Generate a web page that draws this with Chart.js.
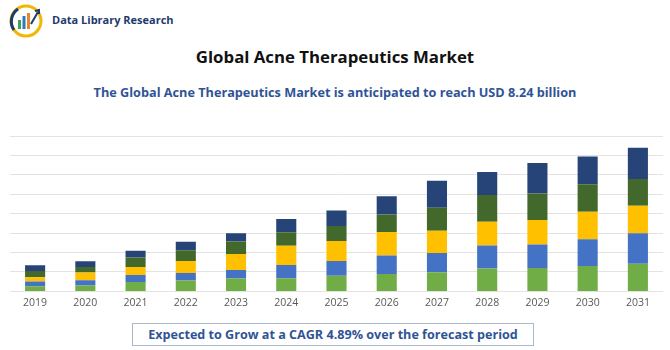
<!DOCTYPE html>
<html>
<head>
<meta charset="utf-8">
<script src="https://cdn.jsdelivr.net/npm/chart.js@4.4.0/dist/chart.umd.min.js"></script>
<style>
body{margin:0;background:#fff;font-family:"Open Sans",sans-serif;}
#wrap{position:relative;width:670px;height:350px;overflow:hidden;}
#logo{position:absolute;left:6px;top:4px;}
#brand{position:absolute;left:52px;top:12px;font-size:11px;font-weight:bold;color:#1f3a6e;}
#title{position:absolute;left:0;width:670px;top:45px;text-align:center;font-size:16.8px;font-weight:bold;color:#111;}
#sub{position:absolute;left:0;width:670px;top:83px;text-align:center;font-size:12.7px;font-weight:bold;color:#2f5496;}
#box{position:absolute;left:132px;top:323px;width:400px;height:21px;border:1px solid #aab8cf;text-align:center;font-size:12.6px;font-weight:bold;color:#2f5496;line-height:21px;}
#chartBox{position:absolute;left:0;top:126px;width:670px;height:188px;}
</style>
</head>
<body>
<div id="wrap">
<svg id="logo" width="42" height="34" viewBox="0 0 42 34">
<circle cx="20" cy="17" r="15" fill="none" stroke="#f2b705" stroke-width="3"/>
<path d="M8 26 A15 15 0 0 1 12 5" fill="none" stroke="#1f3a6e" stroke-width="3"/>
<rect x="12" y="16" width="3" height="9" fill="#3aa655"/>
<rect x="16.5" y="12" width="3" height="13" fill="#2b7bbf"/>
<rect x="21" y="9" width="3" height="16" fill="#e8862a"/>
<path d="M25 20 L32 8" stroke="#1f3a6e" stroke-width="2"/>
<path d="M29 7 L33 6 L33 10" fill="none" stroke="#1f3a6e" stroke-width="2"/>
</svg>
<div id="brand">Data Library Research</div>
<div id="title">Global Acne Therapeutics Market</div>
<div id="sub">The Global Acne Therapeutics Market is anticipated to reach USD 8.24 billion</div>
<div id="chartBox"><canvas id="chart"></canvas></div>
<div id="box">Expected to Grow at a CAGR 4.89% over the forecast period</div>
</div>
<script>

let years = ["2019","2020","2021","2022","2023","2024","2025","2026","2027","2028","2029","2030","2031"];

/* segments, bottom to top */
let seg1 = [0.26,0.31,0.49,0.56,0.67,0.68,0.80,0.89,0.99,1.18,1.21,1.31,1.42];
let seg2 = [0.25,0.27,0.36,0.39,0.43,0.68,0.77,0.96,0.99,1.18,1.21,1.37,1.57];
let seg3 = [0.22,0.39,0.41,0.61,0.82,0.99,1.02,1.21,1.14,1.23,1.25,1.42,1.42];
let seg4 = [0.32,0.29,0.49,0.56,0.65,0.70,0.78,0.90,1.19,1.37,1.37,1.42,1.38];
let seg5 = [0.29,0.29,0.34,0.43,0.43,0.68,0.80,0.94,1.38,1.19,1.57,1.42,1.60];

let colors = ["#70ad47","#4472c4","#ffc000","#43682b","#264478"];

let series = [seg1,seg2,seg3,seg4,seg5];

let ctx = document.getElementById("chart").getContext("2d");

let chart = new Chart(ctx,{
type:"bar",
data:{
labels:years,
datasets:series.map((s,i)=>({
label:"Segment "+(i+1),
data:s,
backgroundColor:colors[i],
barPercentage:0.4,
categoryPercentage:1
}))
},
options:{
responsive:true,
maintainAspectRatio:false,
animation:false,
layout:{padding:{left:10,right:7,top:10,bottom:0}},
plugins:{
legend:{display:false},
tooltip:{enabled:false}
},
scales:{
x:{
stacked:true,
grid:{display:false,drawTicks:false},
border:{display:false},
ticks:{color:"#595959",font:{family:"Open Sans",size:10.5},padding:5}
},
y:{
stacked:true,
min:0,
max:8,
ticks:{display:false,stepSize:1},
grid:{color:"#e3e3e3",drawTicks:false},
border:{display:false}
}
}
}
});

</script>
</body>
</html>
